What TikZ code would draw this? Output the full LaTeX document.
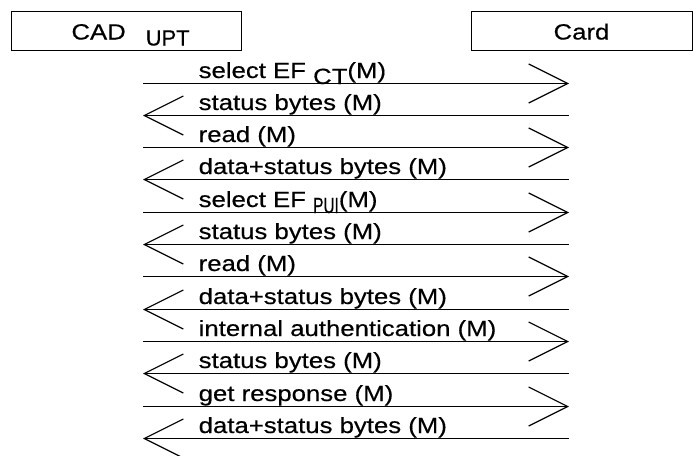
\documentclass[tikz,border=0pt]{standalone}
\usepackage{fontspec}
\setmainfont[FakeStretch=1.17, FakeBold=0.4]{Liberation Sans}
\usepackage{graphicx}
\usepackage{tikz}
\usetikzlibrary{arrows.meta}
\newcommand{\lowered}[1]{\raisebox{-6pt}{#1}}
\tikzstyle{actor} = [rectangle, draw=black, line width=1pt, inner sep=0pt, minimum height=39pt, text height=18pt, text depth=0pt]
\tikzstyle{msg} = [line width=1.2pt]
\tikzstyle{tocard} = [msg, -{Straight Barb[length=39pt,width=39pt]}]
\tikzstyle{tocad} = [msg, {Straight Barb[length=39pt,width=39pt]}-]
\tikzstyle{msgtext} = [anchor=base west, inner sep=0pt]

\begin{document}
\begin{tikzpicture}[x=1pt, y=-1pt, font=\fontsize{22pt}{26pt}\selectfont]
\useasboundingbox (0,0) rectangle (693,455);

\node (cad) [actor, minimum width=230pt] at (126,30.5) {\hspace{9pt}CAD\hspace{20pt}\lowered{\scalebox{0.85}[1]{UPT}}};
\node (card) [actor, minimum width=221pt] at (581.5,30.5) {Card};

\foreach \i/\dir/\txt in {0/tocard/{select EF \lowered{CT}(M)},
                          1/tocad/{status bytes (M)},
                          2/tocard/{read (M)},
                          3/tocad/{data+status bytes (M)},
                          4/tocard/{select EF \lowered{\scalebox{0.6}[1]{PUI}}(M)},
                          5/tocad/{status bytes (M)},
                          6/tocard/{read (M)},
                          7/tocad/{data+status bytes (M)},
                          8/tocard/{internal authentication (M)},
                          9/tocad/{status bytes (M)},
                          10/tocard/{get response (M)},
                          11/tocad/{data+status bytes (M)}}
{
  \coordinate (a\i) at (143,{83.5+int(32.3*\i)});
  \coordinate (b\i) at (569,{83.5+int(32.3*\i)});
  \node (m\i) [msgtext, xshift=55.5pt, yshift=5.5pt] at (a\i) {\txt};
  \draw [\dir] (a\i) -- (b\i);
}

\end{tikzpicture}
\end{document}
